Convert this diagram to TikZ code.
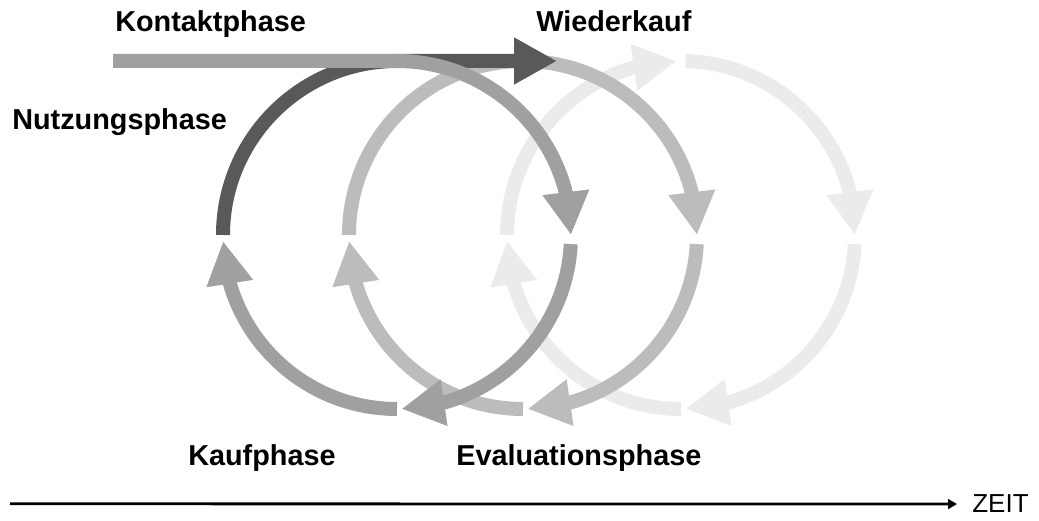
\documentclass[tikz,border=0pt]{standalone}
\usepackage{fontspec}
\setsansfont{Liberation Sans}
\usetikzlibrary{arrows.meta,bending}

\definecolor{nutzung}{HTML}{58595B}
\definecolor{kreisA}{HTML}{A0A0A0}
\definecolor{kreisB}{HTML}{BCBCBC}
\definecolor{kreisC}{HTML}{EBEBEB}

\begin{document}
\begin{tikzpicture}[
  phase/.style={line width=0.35cm},
  pfeil/.style={-{Triangle[length=1.075cm,width=1.1cm]}},
  phasename/.style={font=\sffamily\bfseries\fontsize{20.5}{24}\selectfont, anchor=base west, inner sep=0pt}
]
  \useasboundingbox (0,0) rectangle (25.975,13.025);

  % Third cycle (lightest, at the back)
  \begin{scope}[shift={(17.025,7.15)}, kreisC]
    \draw[phase, pfeil] (270:4.35) arc (270:182:4.35);
    \draw[phase, pfeil] (180:4.35) arc (180:91.5:4.35);
    \draw[phase, pfeil] (88.5:4.35) arc (88.5:0:4.35);
    \draw[phase, pfeil] (-3:4.35) arc (-3:-88.5:4.35);
  \end{scope}

  % Second cycle
  \begin{scope}[shift={(13.075,7.15)}, kreisB]
    \draw[phase, pfeil] (270:4.35) arc (270:182:4.35);
    \draw[phase] (180:4.35) arc (180:90:4.35);
    \draw[phase, pfeil] (90:4.35) arc (90:0:4.35);
    \draw[phase, pfeil] (-3:4.35) arc (-3:-88.5:4.35);
  \end{scope}

  % First cycle
  \begin{scope}[shift={(9.925,7.15)}]
    % Nutzungsphase running into Wiederkauf
    \draw[phase, pfeil, nutzung] (180:4.35) arc (180:90:4.35) -- (4.0,4.35);
    % Kontaktphase
    \draw[phase, pfeil, kreisA] (-7.1,4.35) -- (90:4.35) arc (90:0:4.35);
    \draw[phase, pfeil, kreisA] (-3:4.35) arc (-3:-88.5:4.35);
    % Kaufphase
    \draw[phase, pfeil, kreisA] (270:4.35) arc (270:182:4.35);
  \end{scope}

  % Phase names
  \node[phasename] (kontakt) at (2.875,12.225) {Kontaktphase};
  \node[phasename] (wiederkauf) at (13.4,12.225) {Wiederkauf};
  \node[phasename] (nutzung) at (0.3,9.775) {Nutzungsphase};
  \node[phasename] (kauf) at (4.7,1.375) {Kaufphase};
  \node[phasename] (evaluation) at (11.4,1.375) {Evaluationsphase};

  % Time axis
  \coordinate (zeitstart) at (0.25,0.43);
  \node[font=\sffamily\fontsize{18.5}{22}\selectfont, anchor=base west, inner sep=0pt] (zeit) at (24.3,0.2) {ZEIT};
  \draw[line width=0.07cm, -{Triangle[length=0.22cm,width=0.24cm]}] (zeitstart) -- ([xshift=-0.375cm]zeit.west);

\end{tikzpicture}
\end{document}
